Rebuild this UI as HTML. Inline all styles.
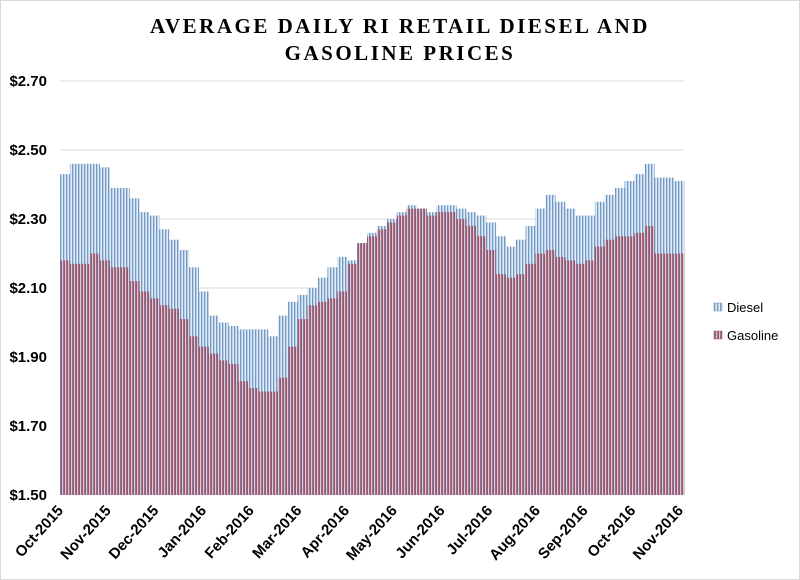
<!DOCTYPE html>
<html><head><meta charset="utf-8"><style>
body{margin:0;background:#fff;}
svg{display:block;font-family:"Liberation Sans",sans-serif;}
</style></head><body>
<svg id="chart" width="800" height="580">
<defs>
<pattern id="pD" width="3" height="4" patternUnits="userSpaceOnUse">
<rect width="3" height="4" fill="#e2ecf6"/><rect x="0" width="1" height="4" fill="#7399c3"/><rect x="1" width="1" height="4" fill="#b9d0e6"/>
</pattern>
<pattern id="pG" width="3" height="4" patternUnits="userSpaceOnUse">
<rect width="3" height="4" fill="#e6c9d0"/><rect x="0" width="1" height="4" fill="#7e77a6"/><rect x="1" width="1" height="4" fill="#a6555f"/>
</pattern>
</defs>
<rect x="0.5" y="0.5" width="799" height="579" fill="#fff" stroke="#d9d9d9"/>
<text x="400" y="33" text-anchor="middle" font-family="Liberation Serif,serif" font-weight="bold" font-size="21" letter-spacing="2.5">AVERAGE DAILY RI RETAIL DIESEL AND</text>
<text x="400" y="60" text-anchor="middle" font-family="Liberation Serif,serif" font-weight="bold" font-size="21" letter-spacing="2.5">GASOLINE PRICES</text>
<g id="grid"></g><g id="bars"></g><g id="axes"></g>
<g>
<rect x="714" y="303" width="8" height="8" fill="url(#pD)" stroke="#6f95c0" stroke-width="0.5"/>
<text x="727" y="312" font-size="13">Diesel</text>
<rect x="714" y="331" width="8" height="8" fill="url(#pG)" stroke="#a9525c" stroke-width="0.5"/>
<text x="727" y="340" font-size="13">Gasoline</text>
</g>
</svg>
<script>
const yTicks=[1.5,1.7,1.9,2.1,2.3,2.5,2.7];
const yTickLabels=["$1.50","$1.70","$1.90","$2.10","$2.30","$2.50","$2.70"];
const months=["Oct-2015","Nov-2015","Dec-2015","Jan-2016","Feb-2016","Mar-2016","Apr-2016","May-2016","Jun-2016","Jul-2016","Aug-2016","Sep-2016","Oct-2016","Nov-2016"];
const diesel=[2.43,2.46,2.46,2.46,2.45,2.39,2.39,2.36,2.32,2.31,2.27,2.24,2.21,2.16,2.09,2.02,2.00,1.99,1.98,1.98,1.98,1.96,2.02,2.06,2.08,2.10,2.13,2.16,2.19,2.18,2.23,2.26,2.28,2.30,2.32,2.34,2.33,2.32,2.34,2.34,2.33,2.32,2.31,2.29,2.25,2.22,2.24,2.28,2.33,2.37,2.35,2.33,2.31,2.31,2.35,2.37,2.39,2.41,2.43,2.46,2.42,2.42,2.41];
const gasoline=[2.18,2.17,2.17,2.20,2.18,2.16,2.16,2.12,2.09,2.07,2.05,2.04,2.01,1.96,1.93,1.91,1.89,1.88,1.83,1.81,1.80,1.80,1.84,1.93,2.01,2.05,2.06,2.07,2.09,2.17,2.23,2.25,2.27,2.29,2.31,2.33,2.33,2.31,2.32,2.32,2.30,2.28,2.25,2.21,2.14,2.13,2.14,2.17,2.20,2.21,2.19,2.18,2.17,2.18,2.22,2.24,2.25,2.25,2.26,2.28,2.20,2.20,2.20];
const NS="http://www.w3.org/2000/svg";
const X0=60,X1=684,Y0=495,Y1=81;
function y(v){return Y0-(v-1.5)/(1.2)*(Y0-Y1);}
const bw=(X1-X0)/diesel.length;
function x(i){return X0+i*bw;}
function mk(tag,attrs,parent,text){const e=document.createElementNS(NS,tag);for(const k in attrs)e.setAttribute(k,attrs[k]);if(text!==undefined)e.textContent=text;parent.appendChild(e);return e;}
const grid=document.getElementById('grid'),bars=document.getElementById('bars'),axes=document.getElementById('axes');
yTicks.forEach((t,i)=>{
  if(i>0){const l=mk('line',{x1:X0,x2:X1,y1:y(t),y2:y(t),stroke:'#d9d9d9','stroke-width':1},grid);
  
  }
  const tx=mk('text',{x:47,y:y(t)+5,'text-anchor':'end','font-size':15,'font-weight':'bold'},axes,yTickLabels[i]);
  
  
});
diesel.forEach((v,i)=>{
  const r=mk('rect',{x:x(i),y:y(v),width:bw+0.3,height:Y0-y(v),fill:'url(#pD)'},bars);
  
  
});
gasoline.forEach((v,i)=>{
  const r=mk('rect',{x:x(i),y:y(v),width:bw+0.3,height:Y0-y(v),fill:'url(#pG)'},bars);
  
  
});
const mStep=(682-62)/(months.length-1);
months.forEach((m,i)=>{
  const px=64+i*mStep, py=511;
  const t=mk('text',{x:px,y:py,'text-anchor':'end','font-size':15,'font-weight':'bold',transform:`rotate(-48 ${px} ${py})`},axes,m);
  
  
});
</script>
</body></html>
